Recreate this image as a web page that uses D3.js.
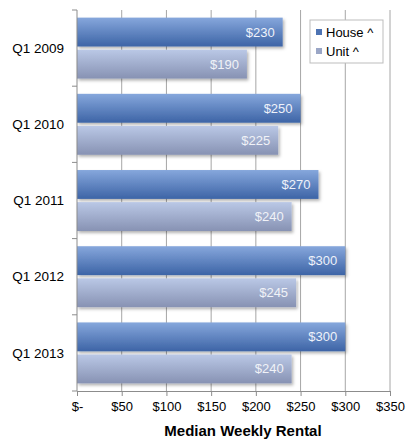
<!DOCTYPE html>
<html>
<head>
<meta charset="utf-8">
<script src="https://cdn.jsdelivr.net/npm/d3@7"></script>
<style>
  body { margin: 0; background: #fff; }
  svg { display: block; font-family: "Liberation Sans", Arial, sans-serif; }
</style>
</head>
<body>
<svg id="chart" width="406" height="441"></svg>
<script>
// data
const quarters = ['Q1 2009', 'Q1 2010', 'Q1 2011', 'Q1 2012', 'Q1 2013'];
const seriesNames = ['House ^', 'Unit ^'];
const houseValues = [230, 250, 270, 300, 300];
const unitValues = [190, 225, 240, 245, 240];
const xTicks = [0, 50, 100, 150, 200, 250, 300, 350];

const svg = d3.select('#chart');
const margin = {top: 10, right: 16, bottom: 50, left: 77};
const width = 406 - margin.left - margin.right;
const height = 441 - margin.top - margin.bottom;

const rows = quarters.map((q, i) => ({q: q, values: [houseValues[i], unitValues[i]]}));

const x = d3.scaleLinear().domain([0, 350]).range([0, width]);
const y = d3.scaleBand().domain(quarters).range([0, height]).paddingInner(0.2).paddingOuter(0.1);
const ySub = d3.scaleBand().domain(seriesNames).range([0, y.bandwidth()]).paddingInner(0.1);

const defs = svg.append('defs');
const grads = [
  {id: 'gHouse', top: '#86a7dc', bottom: '#3d64a6'},
  {id: 'gUnit', top: '#bac8e6', bottom: '#8792b3'}
];
grads.forEach(gd => {
  const g = defs.append('linearGradient').attr('id', gd.id)
    .attr('x1', 0).attr('y1', 0).attr('x2', 0).attr('y2', 1);
  g.append('stop').attr('offset', '0%').attr('stop-color', gd.top);
  g.append('stop').attr('offset', '100%').attr('stop-color', gd.bottom);
});
const sh = defs.append('filter').attr('id', 'shadow')
  .attr('x', '-5%').attr('y', '-20%').attr('width', '115%').attr('height', '160%');
sh.append('feDropShadow').attr('dx', 1.5).attr('dy', 2).attr('stdDeviation', 1.5)
  .attr('flood-color', '#000').attr('flood-opacity', 0.3);

const legendColors = ['#4d73b3', '#9aa6c6'];

const g = svg.append('g').attr('transform', `translate(${margin.left},${margin.top})`);

// vertical gridlines
g.append('g').selectAll('line')
  .data(xTicks.slice(1))
  .join('line')
  .attr('x1', d => x(d)).attr('x2', d => x(d))
  .attr('y1', 0).attr('y2', height)
  .attr('stroke', '#a6a6a6').attr('stroke-width', 1);

// bars
const grp = g.selectAll('.row')
  .data(rows)
  .join('g')
  .attr('class', 'row')
  .attr('transform', d => `translate(0,${y(d.q)})`);

grp.selectAll('rect')
  .data(d => d.values.map((v, i) => ({name: seriesNames[i], v: v, i: i})))
  .join('rect')
  .attr('x', 0)
  .attr('y', d => ySub(d.name))
  .attr('width', d => x(d.v))
  .attr('height', ySub.bandwidth())
  .attr('fill', d => d.i === 0 ? 'url(#gHouse)' : 'url(#gUnit)')
  .attr('filter', 'url(#shadow)');

grp.selectAll('text.val')
  .data(d => d.values.map((v, i) => ({name: seriesNames[i], v: v, i: i})))
  .join('text')
  .attr('class', 'val')
  .attr('x', d => x(d.v) - 8)
  .attr('y', d => ySub(d.name) + ySub.bandwidth() / 2)
  .attr('dy', '0.35em')
  .attr('text-anchor', 'end')
  .attr('font-size', 13)
  .attr('fill', d => d.i === 0 ? '#eef2fa' : '#f0f2f7')
  .text(d => '$' + d.v);

// y axis
const yAxis = g.append('g');
yAxis.append('line').attr('x1', 0).attr('x2', 0).attr('y1', 0).attr('y2', height)
  .attr('stroke', '#8c8c8c');
const bounds = quarters.map(q => y(q) - y.step() * y.paddingInner() / 2);
bounds.push(height);
bounds[0] = 0;
yAxis.selectAll('line.tk').data(bounds).join('line').attr('class', 'tk')
  .attr('x1', -5).attr('x2', 0).attr('y1', d => d).attr('y2', d => d)
  .attr('stroke', '#8c8c8c');
yAxis.selectAll('text').data(quarters).join('text')
  .attr('x', -13)
  .attr('y', d => y(d) + y.bandwidth() / 2)
  .attr('dy', '0.35em')
  .attr('text-anchor', 'end')
  .attr('font-size', 13.5)
  .attr('fill', '#000')
  .text(d => d);

// x axis
const xAxis = g.append('g').attr('transform', `translate(0,${height})`)
  .call(d3.axisBottom(x).tickValues(xTicks).tickSize(5).tickPadding(6)
    .tickFormat(d => d === 0 ? '$-' : '$' + d));
xAxis.select('.domain').attr('stroke', '#8c8c8c');
xAxis.selectAll('.tick line').attr('stroke', '#8c8c8c');
xAxis.selectAll('.tick text').attr('font-size', 13).attr('fill', '#000')
  .attr('font-family', '"Liberation Sans", Arial, sans-serif');

svg.append('text')
  .attr('x', 243).attr('y', 436)
  .attr('text-anchor', 'middle')
  .attr('font-size', 15).attr('font-weight', 'bold')
  .text('Median Weekly Rental');

// legend
const lg = svg.append('g').attr('transform', 'translate(310,20)');
lg.append('rect').attr('width', 73).attr('height', 43)
  .attr('fill', '#fff').attr('stroke', '#bdbdbd');
const li = lg.selectAll('g.item').data(seriesNames).join('g').attr('class', 'item')
  .attr('transform', (d, i) => `translate(6,${12 + i * 19})`);
li.append('rect').attr('x', 0).attr('y', -3).attr('width', 6).attr('height', 6)
  .attr('fill', (d, i) => legendColors[i]);
li.append('text').attr('x', 10).attr('dy', '0.35em')
  .attr('font-size', 13).attr('fill', '#000').text(d => d);
</script>
</body>
</html>
